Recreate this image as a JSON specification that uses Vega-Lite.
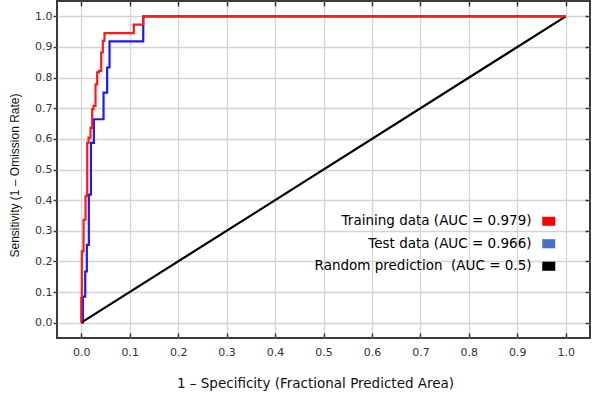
{
  "$schema": "https://vega.github.io/schema/vega-lite/v6.json",
  "width": 533,
  "height": 337,
  "autosize": {"type": "none"},
  "padding": {"left": 57, "top": 1, "right": 8, "bottom": 58},
  "background": "#ffffff",
  "config": {
    "view": {"stroke": "#3a3a3a", "strokeWidth": 2},
    "axis": {
      "labelFont": "DejaVu Sans",
      "labelFontSize": 11,
      "labelColor": "#333333",
      "tickColor": "#3a3a3a",
      "tickWidth": 1.5,
      "gridColor": "#d4d4d4",
      "gridWidth": 1.3,
      "domain": false
    }
  },
  "data": {
    "values": [
      {"series": "Random prediction\u00a0 (AUC = 0.5)", "fpr": 0, "tpr": 0},
      {"series": "Random prediction\u00a0 (AUC = 0.5)", "fpr": 1, "tpr": 1},
      {"series": "Test data (AUC = 0.966)", "fpr": 0, "tpr": 0},
      {"series": "Test data (AUC = 0.966)", "fpr": 0.0034, "tpr": 0.085},
      {"series": "Test data (AUC = 0.966)", "fpr": 0.0082, "tpr": 0.167},
      {"series": "Test data (AUC = 0.966)", "fpr": 0.0116, "tpr": 0.254},
      {"series": "Test data (AUC = 0.966)", "fpr": 0.0157, "tpr": 0.418},
      {"series": "Test data (AUC = 0.966)", "fpr": 0.02, "tpr": 0.587},
      {"series": "Test data (AUC = 0.966)", "fpr": 0.0261, "tpr": 0.664},
      {"series": "Test data (AUC = 0.966)", "fpr": 0.046, "tpr": 0.751},
      {"series": "Test data (AUC = 0.966)", "fpr": 0.0535, "tpr": 0.833},
      {"series": "Test data (AUC = 0.966)", "fpr": 0.0584, "tpr": 0.918},
      {"series": "Test data (AUC = 0.966)", "fpr": 0.128, "tpr": 1.0},
      {"series": "Test data (AUC = 0.966)", "fpr": 1.0, "tpr": 1.0},
      {"series": "Training data (AUC = 0.979)", "fpr": 0, "tpr": 0},
      {"series": "Training data (AUC = 0.979)", "fpr": 0, "tpr": 0.08},
      {"series": "Training data (AUC = 0.979)", "fpr": 0.0013, "tpr": 0.233},
      {"series": "Training data (AUC = 0.979)", "fpr": 0.0048, "tpr": 0.336},
      {"series": "Training data (AUC = 0.979)", "fpr": 0.0089, "tpr": 0.413},
      {"series": "Training data (AUC = 0.979)", "fpr": 0.0123, "tpr": 0.587},
      {"series": "Training data (AUC = 0.979)", "fpr": 0.0151, "tpr": 0.604},
      {"series": "Training data (AUC = 0.979)", "fpr": 0.0192, "tpr": 0.636},
      {"series": "Training data (AUC = 0.979)", "fpr": 0.0226, "tpr": 0.697},
      {"series": "Training data (AUC = 0.979)", "fpr": 0.0254, "tpr": 0.708},
      {"series": "Training data (AUC = 0.979)", "fpr": 0.0295, "tpr": 0.778},
      {"series": "Training data (AUC = 0.979)", "fpr": 0.0329, "tpr": 0.817},
      {"series": "Training data (AUC = 0.979)", "fpr": 0.0364, "tpr": 0.822},
      {"series": "Training data (AUC = 0.979)", "fpr": 0.0412, "tpr": 0.882},
      {"series": "Training data (AUC = 0.979)", "fpr": 0.0446, "tpr": 0.92},
      {"series": "Training data (AUC = 0.979)", "fpr": 0.048, "tpr": 0.945},
      {"series": "Training data (AUC = 0.979)", "fpr": 0.1085, "tpr": 0.973},
      {"series": "Training data (AUC = 0.979)", "fpr": 0.128, "tpr": 1.0},
      {"series": "Training data (AUC = 0.979)", "fpr": 1.0, "tpr": 1.0}
    ]
  },
  "resolve": {"axis": {"x": "independent", "y": "independent"}},
  "layer": [
    {
      "transform": [{"filter": "datum.series === 'Test data (AUC = 0.966)'"}],
      "mark": {"type": "line", "interpolate": "step-after", "color": "#1a1aff", "strokeWidth": 2.2},
      "encoding": {
        "x": {
          "field": "fpr", "type": "quantitative",
          "scale": {"domain": [-0.05, 1.05], "nice": false, "zero": false},
          "axis": {
            "orient": "bottom",
            "values": [0, 0.1, 0.2, 0.3, 0.4, 0.5, 0.6, 0.7, 0.8, 0.9, 1.0],
            "format": ".1f",
            "grid": true,
            "tickSize": -5,
            "labelPadding": 13,
            "title": "1 – Specificity (Fractional Predicted Area)",
            "titleFont": "DejaVu Sans",
            "titleFontSize": 13.5,
            "titleFontWeight": "normal",
            "titleColor": "#111111",
            "titleX": 258,
            "titleY": 45,
            "titleBaseline": "middle"
          }
        },
        "y": {
          "field": "tpr", "type": "quantitative",
          "scale": {"domain": [-0.05, 1.05], "nice": false, "zero": false},
          "axis": {
            "orient": "left",
            "values": [0, 0.1, 0.2, 0.3, 0.4, 0.5, 0.6, 0.7, 0.8, 0.9, 1.0],
            "format": ".1f",
            "grid": true,
            "tickSize": 4,
            "labelPadding": 1,
            "title": "Sensitivity (1 – Omission Rate)",
            "titleFont": "Liberation Sans",
            "titleFontSize": 12,
            "titleFontWeight": "normal",
            "titleColor": "#111111",
            "titleX": -43,
            "titleY": 174,
            "titleBaseline": "middle"
          }
        }
      }
    },
    {
      "transform": [{"filter": "datum.series === 'Random prediction\u00a0 (AUC = 0.5)'"}],
      "mark": {"type": "line", "color": "#000000", "strokeWidth": 2.2},
      "encoding": {
        "x": {
          "field": "fpr", "type": "quantitative",
          "scale": {"domain": [-0.05, 1.05], "nice": false, "zero": false},
          "axis": {"orient": "top", "values": [0, 0.1, 0.2, 0.3, 0.4, 0.5, 0.6, 0.7, 0.8, 0.9, 1.0], "labels": false, "grid": false, "tickSize": -5, "title": null}
        },
        "y": {
          "field": "tpr", "type": "quantitative",
          "scale": {"domain": [-0.05, 1.05], "nice": false, "zero": false},
          "axis": {"orient": "right", "values": [0, 0.1, 0.2, 0.3, 0.4, 0.5, 0.6, 0.7, 0.8, 0.9, 1.0], "labels": false, "grid": false, "tickSize": -5, "title": null}
        }
      }
    },
    {
      "transform": [{"filter": "datum.series === 'Training data (AUC = 0.979)'"}],
      "mark": {"type": "line", "interpolate": "step-after", "color": "#ff1a1a", "strokeWidth": 2.2},
      "encoding": {
        "x": {"field": "fpr", "type": "quantitative", "scale": {"domain": [-0.05, 1.05], "nice": false, "zero": false}, "axis": null},
        "y": {"field": "tpr", "type": "quantitative", "scale": {"domain": [-0.05, 1.05], "nice": false, "zero": false}, "axis": null}
      }
    },
    {
      "transform": [{"filter": "false"}],
      "mark": {"type": "square", "opacity": 1, "filled": true},
      "encoding": {
        "fill": {
          "field": "series", "type": "nominal",
          "scale": {
            "domain": ["Training data (AUC = 0.979)", "Test data (AUC = 0.966)", "Random prediction\u00a0 (AUC = 0.5)"],
            "range": ["#ff0000", "#4472c4", "#000000"]
          },
          "legend": {
            "orient": "none",
            "legendX": 485,
            "legendY": 213.5,
            "title": null,
            "padding": 0,
            "symbolType": "M-1,-0.7H1V0.7H-1Z",
            "symbolSize": 169,
            "symbolStrokeWidth": 0,
            "symbolOpacity": 1,
            "labelAlign": "right",
            "labelOffset": -24,
            "labelFont": "DejaVu Sans",
            "labelFontSize": 13.5,
            "labelColor": "#000000",
            "labelLimit": 0,
            "rowPadding": 7.5
          }
        }
      }
    }
  ]
}
